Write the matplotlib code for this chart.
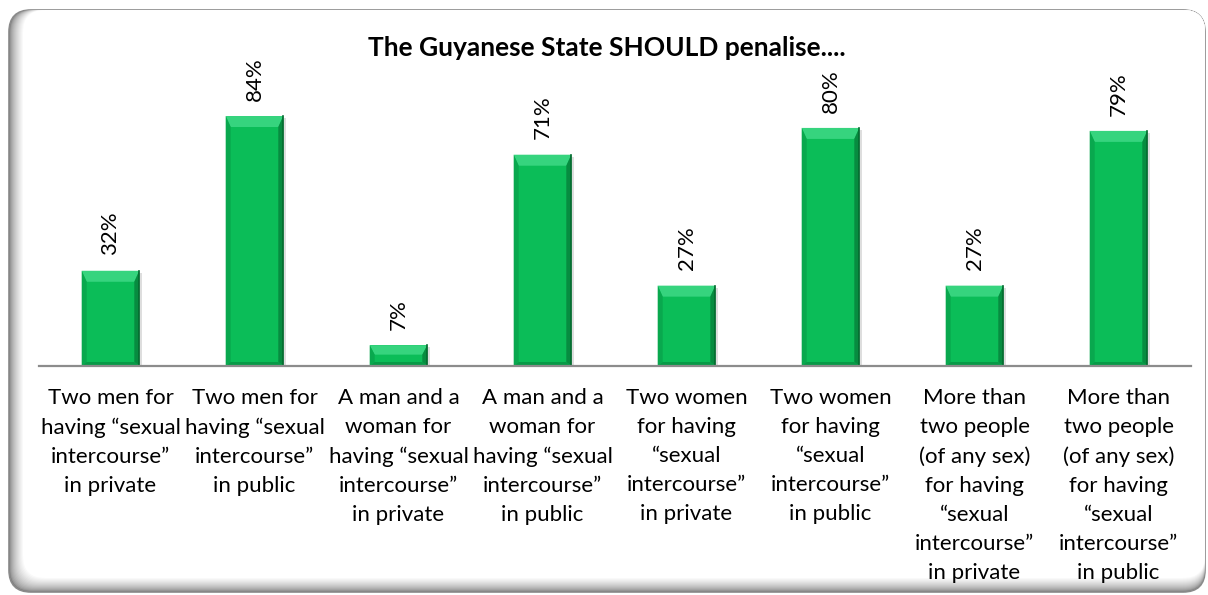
import matplotlib.pyplot as plt
from matplotlib.patches import FancyBboxPatch, Polygon
from matplotlib.transforms import IdentityTransform
import numpy as np

plt.rcParams['font.family'] = ['Lato', 'DejaVu Sans']

categories = [
    'Two men for\nhaving \u201csexual\nintercourse\u201d\nin private',
    'Two men for\nhaving \u201csexual\nintercourse\u201d\nin public',
    'A man and a\nwoman for\nhaving \u201csexual\nintercourse\u201d\nin private',
    'A man and a\nwoman for\nhaving \u201csexual\nintercourse\u201d\nin public',
    'Two women\nfor having\n\u201csexual\nintercourse\u201d\nin private',
    'Two women\nfor having\n\u201csexual\nintercourse\u201d\nin public',
    'More than\ntwo people\n(of any sex)\nfor having\n\u201csexual\nintercourse\u201d\nin private',
    'More than\ntwo people\n(of any sex)\nfor having\n\u201csexual\nintercourse\u201d\nin public',
]
values = [32, 84, 7, 71, 27, 80, 27, 79]
title = 'The Guyanese State SHOULD penalise....'

W, H = 1208, 595
fig = plt.figure(figsize=(W / 100, H / 100), dpi=100)

# rounded chart frame with a soft inner shadow on the left and bottom edges
left, right, top, bottom = 9, 1205, 10, 592
ident = IdentityTransform()
steps = 14
for k in range(steps + 1):
    t = k / steps
    g = 0.48 + 0.52 * t ** 0.6
    x0 = left + k
    y0 = (H - bottom) + k
    fb = FancyBboxPatch((x0, y0), (right - x0), (H - top) - y0,
                        boxstyle='round,pad=0,rounding_size=22',
                        transform=ident, facecolor=(g, g, g),
                        edgecolor='#8a8a8a' if k == 0 else 'none',
                        lw=1.2, zorder=0)
    fig.add_artist(fb)

ax = fig.add_axes([38.5 / W, (H - 366) / H, (1190.5 - 38.5) / W, (366 - 68.4) / H])
ax.set_facecolor('none')
x = np.arange(len(values))
bw = 0.4
bars = ax.bar(x, values, width=bw, color='#0bbd58', zorder=2)

# bevel shading on each bar
px_y = 100 / (366 - 68.4)
px_x = 1 / 144
for b in bars:
    x0, x1, h = b.get_x(), b.get_x() + b.get_width(), b.get_height()
    dx, dy = 5 * px_x, min(11 * px_y, h / 2.2)
    db = 4 * px_y
    ax.add_patch(Polygon([(x0, h), (x1, h), (x1 - dx, h - dy), (x0 + dx, h - dy)],
                         closed=True, facecolor='#36d47e', edgecolor='none', zorder=3))
    ax.add_patch(Polygon([(x0, h), (x0 + dx, h - dy), (x0 + dx, db), (x0, 0)],
                         closed=True, facecolor='#09a84e', edgecolor='none', zorder=3))
    ax.add_patch(Polygon([(x1, h), (x1 - dx, h - dy), (x1 - dx, db), (x1, 0)],
                         closed=True, facecolor='#078c40', edgecolor='none', zorder=3))
    ax.add_patch(Polygon([(x0, 0), (x1, 0), (x1 - dx, db), (x0 + dx, db)],
                         closed=True, facecolor='#089a47', edgecolor='none', zorder=3))
    ax.plot([x1, x1], [0, h], color='#056b30', lw=1.2, zorder=4)
    ax.add_patch(plt.Rectangle((x1, 0), 3 * px_x, h - 2 * px_y, facecolor='#dedede',
                               edgecolor='none', zorder=1))
    ax.annotate(f'{h:.0f}%', (b.get_x() + b.get_width() / 2, h), xytext=(0, 11),
                textcoords='offset points', rotation=90, ha='center', va='bottom',
                fontsize=16, color='black')

ax.set_xlim(-0.5, len(values) - 0.5)
ax.set_ylim(0, 100)
ax.set_yticks([])
ax.set_xticks(x)
ax.set_xticklabels(categories, fontsize=16, linespacing=1.56, va='top')
ax.tick_params(axis='x', length=0, pad=16)
for s in ['left', 'right', 'top']:
    ax.spines[s].set_visible(False)
ax.spines['bottom'].set_color('#8c8c8c')
ax.spines['bottom'].set_linewidth(1.6)
ax.spines['bottom'].set_zorder(5)

fig.text(607 / W, 1 - 48 / H, title, ha='center', va='center',
         fontsize=19, fontweight='bold')

fig.savefig('out.png', dpi=100)
